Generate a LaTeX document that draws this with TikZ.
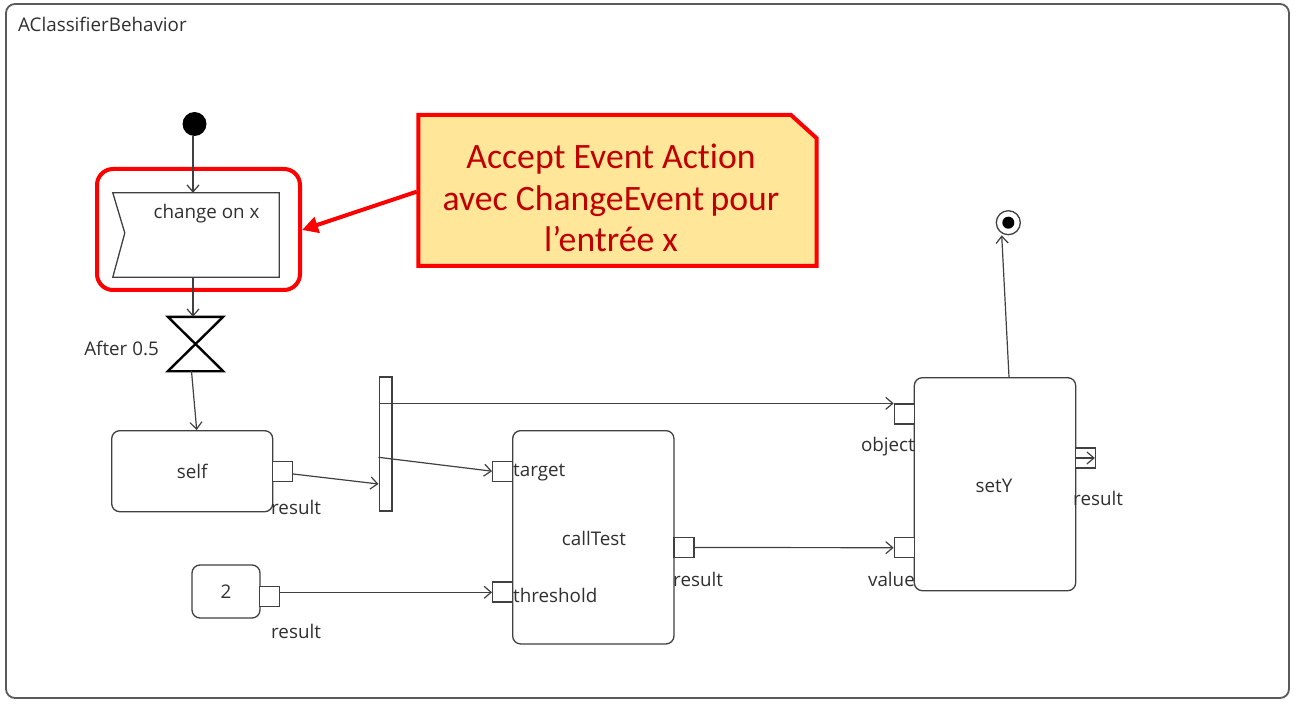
\documentclass[tikz,border=0pt]{standalone}
\usepackage{fontspec}
\setmainfont{Open Sans}
\newfontfamily\calloutfont[Ligatures=NoCommon]{Carlito}
\usetikzlibrary{arrows.meta,calc}
\definecolor{linegray}{HTML}{404040}
\definecolor{framegray}{HTML}{5A5A5A}
\definecolor{txtgray}{HTML}{303030}
\definecolor{hlred}{HTML}{FF0000}
\definecolor{noteyellow}{HTML}{FFE699}
\definecolor{notetext}{HTML}{C00000}
\tikzset{
  uml/.style={draw=linegray, line width=1.3pt, rounded corners=8pt, inner sep=0pt, fill=white},
  pin/.style={draw=linegray, line width=1.3pt, minimum width=20pt, minimum height=20pt, inner sep=0pt, fill=white},
  lbl/.style={font=\fontsize{18.8}{22}\selectfont, text=txtgray, inner sep=0pt},
  flow/.style={draw=linegray, line width=1.2pt, -{Straight Barb[length=7pt,width=12pt,line width=1.2pt]}},
  redline/.style={draw=hlred, line width=4pt},
}
\begin{document}
\begin{tikzpicture}[x=1pt,y=-1pt]
\useasboundingbox (0,0) rectangle (1298,711);
\fill[white] (0,0) rectangle (1298,711);
% frame
\node[draw=framegray, line width=1.8pt, rounded corners=9pt, minimum width=1283pt, minimum height=694pt, inner sep=0pt] (frame) at (647.5,351) {};
\node[lbl, anchor=west] (title) at (18,24) {AClassifierBehavior};

% initial node
\node[circle, fill=black, minimum size=24pt, inner sep=0pt] (init) at (194.5,124) {};
% accept event action
\node[minimum width=166pt, minimum height=84pt, inner sep=0pt] (accept) at (196,235) {};
\draw[linegray, line width=1.3pt, fill=white] (accept.north west) -- (accept.north east) -- (accept.south east) -- (accept.south west) -- ($(accept.west)+(12,-2)$) -- cycle;
\node[lbl] (acctext) at (206.5,214) {change on x};
% highlight
\node[redline, rounded corners=16pt, minimum width=203pt, minimum height=121pt, inner sep=0pt] (hl) at (198.5,229.5) {};

% timer (hourglass)
\node[minimum width=55pt, minimum height=54pt, inner sep=0pt] (timer) at (195.5,344) {};
\draw[black, line width=2.4pt, line join=miter] (timer.north west) -- (timer.north east) -- (timer.south west) -- (timer.south east) -- cycle;
\node[lbl, anchor=east] (timerlbl) at (159,348) {After 0.5};

% self
\node[uml, minimum width=161pt, minimum height=81pt] (self) at (192.2,471.2) {};
\node[lbl] at (self.center) {self};
\node[pin] (selfpin) at (282.5,471.5) {};
\node[lbl, anchor=west] (selfres) at (271,507) {result};

% fork
\node[draw=linegray, line width=1.3pt, fill=white, minimum width=12.7pt, minimum height=134pt, inner sep=0pt] (fork) at (385.5,444) {};

% 2
\node[uml, minimum width=68pt, minimum height=53pt] (two) at (226,591.5) {};
\node[lbl] at (two.center) {2};
\node[pin] (twopin) at (269.3,596.3) {};
\node[lbl, anchor=west] (twores) at (271,631.7) {result};

% callTest
\node[uml, minimum width=161.3pt, minimum height=213.3pt] (call) at (593.3,537.3) {};
\node[lbl] at (594,538) {callTest};
\node[pin] (tgtpin) at (502.7,471.2) {};
\node[lbl, anchor=west] at (513,472.7) {target};
\node[pin] (thrpin) at (502.7,592) {};
\node[lbl, anchor=west] at (513,595) {threshold};
\node[pin] (callres) at (684,547.5) {};
\node[lbl, anchor=west] at (673,579) {result};

% setY
\node[uml, minimum width=161.4pt, minimum height=213pt] (sety) at (995,484.2) {};
\node[lbl] at (994,486) {setY};
\node[pin] (objpin) at (904.3,414) {};
\node[lbl, anchor=east] at (915,446.7) {object};
\node[pin] (valpin) at (904.3,547.7) {};
\node[lbl, anchor=east] at (915,579) {value};
\node[pin] (setres) at (1085.7,458) {};
\node[lbl, anchor=west] at (1073,498) {result};
\draw[flow] ([xshift=1pt]setres.west) -- ([xshift=-1.5pt]setres.east);

% final node
\node[circle, draw=linegray, line width=1.3pt, fill=white, minimum size=24pt, inner sep=0pt] (final) at (1008.3,222.7) {};
\node[circle, fill=black, minimum size=12pt, inner sep=0pt] at (final.center) {};

% flows
\draw[flow] (init.south -| 193,0) -- (accept.north -| 193,0);
\draw[flow] (accept.south -| 193,0) -- (timer.north -| 193,0);
\draw[flow] ([xshift=-4pt]timer.south) -- ([xshift=4.5pt]self.north);
\draw[flow] (selfpin.east |- 0,474) -- (fork.west |- 0,484);
\draw[flow] (fork.west |- objpin.north) -- (objpin.north west);
\draw[flow] (fork.west |- 0,457.3) -- (tgtpin.west);
\draw[flow] (twopin.east |- 0,592.3) -- (thrpin.west |- 0,592.3);
\draw[flow] (callres.east) -- (valpin.west);
\draw[flow] ([xshift=14pt]sety.north) -- ([xshift=-6.6pt]final.south);

% callout
\coordinate (cnw) at (418.3,115);
\coordinate (cne1) at (791,115);
\coordinate (cne2) at (816.7,138.3);
\coordinate (cse) at (816.7,266);
\coordinate (csw) at (418.3,266);
\draw[redline, fill=noteyellow, line join=miter] (cnw) -- (cne1) -- (cne2) -- (cse) -- (csw) -- cycle;
\node[font=\calloutfont\fontsize{35.7}{41.5}\selectfont, text=notetext, align=center, inner sep=0pt] (note) at (611,198) {Accept Event Action\\avec ChangeEvent\hspace{0.18em}pour\\l’entrée x};
\coordinate (calloutstart) at (416.7,191.7);
\draw[hlred, line width=4pt, -{Triangle[length=16pt,width=16pt]}] (calloutstart) -- (hl.east |- 0,230);
\end{tikzpicture}
\end{document}
